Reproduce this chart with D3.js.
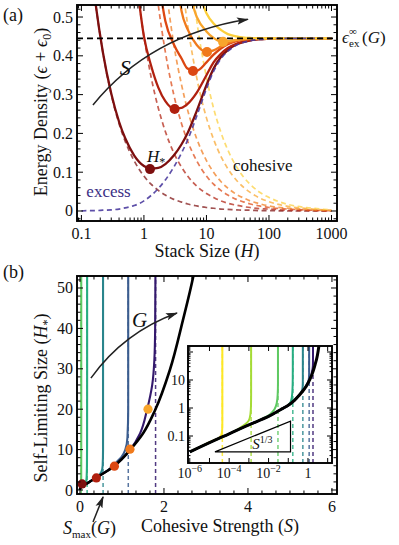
<!DOCTYPE html>
<html>
<head>
<meta charset="utf-8">
<script src="https://cdnjs.cloudflare.com/ajax/libs/d3/7.8.5/d3.min.js"></script>
<style>
  body { margin: 0; background: #fff; }
  text { font-family: "Liberation Serif", "DejaVu Serif", serif; fill: #111; }
</style>
</head>
<body>
<svg id="chart" width="399" height="545"></svg>
<script>
// ---------- panel (a): energy vs stack size ----------
const stackH = [0.1, 0.13, 0.17, 0.22, 0.3, 0.4, 0.5, 0.7, 1, 1.3, 1.7, 2.2, 3, 4, 5, 7, 10, 13, 17, 22, 30, 40, 50, 70, 100, 200, 500, 1000];

const excess = [0, 0.001, 0.001, 0.002, 0.003, 0.005, 0.008, 0.014, 0.026, 0.04, 0.058, 0.08, 0.113, 0.15, 0.183, 0.245, 0.315, 0.36, 0.392, 0.412, 0.427, 0.435, 0.439, 0.442, 0.444, 0.445, 0.445, 0.445];

const _ = null;
const cohesive = [
  [0.9, 0.69, 0.53, 0.41, 0.3, 0.225, 0.18, 0.129, 0.09, 0.069, 0.053, 0.041, 0.03, 0.023, 0.018, 0.013, 0.009, 0.007, 0.005, 0.004, 0.003, 0.002, 0.002, 0.001, 0.001, 0, 0, 0],
  [_, _, _, _, _, _, 0.9, 0.64, 0.45, 0.346, 0.265, 0.205, 0.15, 0.113, 0.09, 0.064, 0.045, 0.035, 0.026, 0.02, 0.015, 0.011, 0.009, 0.006, 0.005, 0.002, 0.001, 0],
  [_, _, _, _, _, _, _, _, 0.9, 0.69, 0.53, 0.41, 0.3, 0.225, 0.18, 0.129, 0.09, 0.069, 0.053, 0.041, 0.03, 0.023, 0.018, 0.013, 0.009, 0.005, 0.002, 0.001],
  [_, _, _, _, _, _, _, _, _, 1.0, 0.76, 0.59, 0.43, 0.325, 0.26, 0.186, 0.13, 0.1, 0.076, 0.059, 0.043, 0.033, 0.026, 0.019, 0.013, 0.007, 0.003, 0.001],
  [_, _, _, _, _, _, _, _, _, _, _, 1.09, 0.8, 0.6, 0.48, 0.343, 0.24, 0.185, 0.141, 0.109, 0.08, 0.06, 0.048, 0.034, 0.024, 0.012, 0.005, 0.002],
  [_, _, _, _, _, _, _, _, _, _, _, _, 1.15, 0.86, 0.69, 0.49, 0.345, 0.265, 0.203, 0.157, 0.115, 0.086, 0.069, 0.049, 0.035, 0.017, 0.007, 0.003]
];

const total = [
  [_, 0.69, 0.53, 0.41, 0.303, 0.23, 0.188, 0.143, 0.116, 0.109, 0.111, 0.121, 0.143, 0.172, 0.201, 0.258, 0.324, 0.367, 0.397, 0.415, 0.429, 0.436, 0.44, 0.443, 0.444, 0.445, 0.445, 0.445],
  [_, _, _, _, _, _, _, 0.65, 0.45, 0.375, 0.318, 0.283, 0.264, 0.266, 0.276, 0.305, 0.35, 0.383, 0.405, 0.42, 0.431, 0.437, 0.44, 0.443, 0.444, 0.445, 0.445, 0.445],
  [_, _, _, _, _, _, _, _, _, _, 0.6, 0.49, 0.43, 0.393, 0.367, 0.362, 0.383, 0.403, 0.419, 0.43, 0.438, 0.442, 0.444, 0.445, 0.445, 0.445, 0.445, 0.445],
  [_, _, _, _, _, _, _, _, _, _, _, _, 0.68, 0.515, 0.468, 0.428, 0.41, 0.414, 0.424, 0.433, 0.44, 0.443, 0.444, 0.445, 0.445, 0.445, 0.445, 0.445],
  [_, _, _, _, _, _, _, _, _, _, _, _, _, _, 0.58, 0.5, 0.463, 0.446, 0.437, 0.438, 0.441, 0.443, 0.444, 0.445, 0.445, 0.445, 0.445, 0.445],
  [_, _, _, _, _, _, _, _, _, _, _, _, _, _, _, 0.58, 0.51, 0.483, 0.467, 0.456, 0.45, 0.447, 0.446, 0.445, 0.445, 0.445, 0.445, 0.445]
];

const minH = [1.25, 3.1, 6.1, 10.2, 18.4];
const minE = [0.108, 0.263, 0.361, 0.41, 0.436];
const plateau = 0.445;

const heatColors = ["#7d0f0f", "#b0200f", "#dc4712", "#f07a1c", "#f8a52c", "#fccf3a"];

const aTicksX = [0.1, 1, 10, 100, 1000];
const aTickLabelsX = ["0.1", "1", "10", "100", "1000"];
const aTicksY = [0, 0.1, 0.2, 0.3, 0.4, 0.5];
const aTickLabelsY = ["0", "0.1", "0.2", "0.3", "0.4", "0.5"];

// ---------- panel (b): self-limiting size vs cohesion ----------
const sMax = [4.5e-5, 1.3e-3, 0.03, 0.17, 0.55, 1.15, 1.8];
const gColors = ["#fde725", "#a5db36", "#5ec962", "#27ad81", "#2a858c", "#3b5d8f", "#33186c"];

const gCurveH = [
  [0.027, 0.047, 0.068, 0.085, 0.11, 0.16, 0.3, 1, 300],
  [0.027, 0.058, 0.12, 0.18, 0.25, 0.36, 0.6, 1.2, 3, 300],
  [0.027, 0.058, 0.12, 0.25, 0.42, 0.6, 0.9, 1.5, 3, 8, 300],
  [0.027, 0.058, 0.12, 0.25, 0.5, 0.9, 1.2, 1.6, 2.3, 3.5, 6, 12, 30, 300],
  [0.027, 0.058, 0.12, 0.25, 0.5, 0.95, 1.25, 1.85, 2.4, 3.0, 3.6, 4.5, 6, 10, 300],
  [0.027, 0.058, 0.12, 0.25, 0.5, 0.95, 1.25, 1.85, 3.0, 4.4, 5.9, 7.0, 8.2, 10, 13, 20, 300],
  [0.027, 0.058, 0.12, 0.25, 0.5, 0.95, 1.25, 1.85, 3.0, 4.4, 5.9, 7.7, 9.9, 14, 20, 26, 32, 40, 60, 300]
];
const gCurveS = [
  [1e-6, 5e-6, 1.5e-5, 3e-5, 4e-5, 4.4e-5, 4.5e-5, 4.5e-5, 4.5e-5],
  [1e-6, 1e-5, 1e-4, 3e-4, 6e-4, 1e-3, 1.2e-3, 1.28e-3, 1.3e-3, 1.3e-3],
  [1e-6, 1e-5, 1e-4, 1e-3, 0.005, 0.012, 0.02, 0.026, 0.029, 0.03, 0.03],
  [1e-6, 1e-5, 1e-4, 1e-3, 0.01, 0.045, 0.09, 0.13, 0.15, 0.16, 0.166, 0.169, 0.17, 0.17],
  [1e-6, 1e-5, 1e-4, 1e-3, 0.01, 0.05, 0.1, 0.2, 0.28, 0.36, 0.44, 0.51, 0.54, 0.549, 0.55],
  [1e-6, 1e-5, 1e-4, 1e-3, 0.01, 0.05, 0.1, 0.2, 0.38, 0.6, 0.78, 0.88, 0.99, 1.08, 1.13, 1.148, 1.15],
  [1e-6, 1e-5, 1e-4, 1e-3, 0.01, 0.05, 0.1, 0.2, 0.38, 0.6, 0.81, 1.0, 1.19, 1.43, 1.6, 1.72, 1.77, 1.79, 1.8, 1.8]
];
// the two smallest-G curves sit on S = 0 in the linear panel; only the inset shows them
const mainFrom = 2;

const envS = [1e-6, 1e-5, 1e-4, 1e-3, 0.01, 0.05, 0.1, 0.2, 0.38, 0.6, 0.81, 1.0, 1.19, 1.5, 1.79, 2.14, 2.45, 2.7, 3.0, 3.3, 3.6];
const envH = [0.027, 0.058, 0.12, 0.25, 0.5, 0.95, 1.25, 1.85, 3.0, 4.4, 5.9, 7.7, 9.9, 14, 19.8, 29.7, 42, 53, 75, 110, 170];

const dotS = [0.05, 0.39, 0.82, 1.19, 1.62];
const dotH = [1.5, 3.0, 5.9, 10.1, 20];

const slopeS = [1.9e-5, 0.13, 0.13];
const slopeH = [0.027, 0.027, 0.34];

const bTicksX = [0, 2, 4, 6];
const bTicksY = [0, 10, 20, 30, 40, 50];
const inTicksX = [1e-6, 1e-4, 1e-2, 1];
const inTickExp = ["−6", "−4", "−2", ""];
const inTicksY = [0.1, 1, 10];
const inTickLabelsY = ["0.1", "1", "10"];

// ---------- layout ----------
const boxA = { l: 77, r: 337, t: 5, b: 221 };
const boxB = { l: 77, r: 337, t: 276, b: 494 };
const boxI = { l: 188, r: 332, t: 346, b: 463 };

const xA = d3.scaleLog().domain([0.085, 1225]).range([boxA.l, boxA.r]);
const yA = d3.scaleLinear().domain([-0.0258, 0.531]).range([boxA.b, boxA.t]);
const xB = d3.scaleLinear().domain([-0.071, 6.12]).range([boxB.l, boxB.r]);
const yB = d3.scaleLinear().domain([-0.99, 52.97]).range([boxB.b, boxB.t]);
const xI = d3.scaleLog().domain([Math.pow(10, -6.09), Math.pow(10, 1.22)]).range([boxI.l, boxI.r]);
const yI = d3.scaleLog().domain([Math.pow(10, -1.964), Math.pow(10, 2.214)]).range([boxI.b, boxI.t]);

const svg = d3.select("#chart");
const defs = svg.append("defs");

defs.append("marker")
  .attr("id", "head")
  .attr("markerUnits", "userSpaceOnUse")
  .attr("markerWidth", 12).attr("markerHeight", 9)
  .attr("refX", 11).attr("refY", 4.5)
  .attr("orient", "auto")
  .append("path")
  .attr("d", "M0,0.8 L12,4.5 L0,8.2 L2.5,4.5 Z")
  .attr("fill", "#222");

function clip(id, box) {
  defs.append("clipPath").attr("id", id).append("rect")
    .attr("x", box.l).attr("y", box.t)
    .attr("width", box.r - box.l).attr("height", box.b - box.t);
  return "url(#" + id + ")";
}

function logMinor(lo, hi) {
  const out = [];
  for (let e = Math.floor(Math.log10(lo)); e <= Math.ceil(Math.log10(hi)); e++) {
    for (let m = 2; m <= 9; m++) {
      const v = m * Math.pow(10, e);
      if (v >= lo && v <= hi) out.push(v);
    }
  }
  return out;
}

function frame(g, box, xs, ys, xMajor, xMinor, yMajor, yMinor, big, small) {
  const t = g.append("g").attr("stroke", "#000").attr("stroke-width", 1);
  xMajor.map(v => [v, big]).concat(xMinor.map(v => [v, small])).forEach(([v, len]) => {
    const p = xs(v);
    if (p < box.l + 1 || p > box.r - 1) return;
    t.append("line").attr("x1", p).attr("x2", p).attr("y1", box.b).attr("y2", box.b - len);
    t.append("line").attr("x1", p).attr("x2", p).attr("y1", box.t).attr("y2", box.t + len);
  });
  yMajor.map(v => [v, big]).concat(yMinor.map(v => [v, small])).forEach(([v, len]) => {
    const p = ys(v);
    if (p < box.t + 1 || p > box.b - 1) return;
    t.append("line").attr("y1", p).attr("y2", p).attr("x1", box.l).attr("x2", box.l + len);
    t.append("line").attr("y1", p).attr("y2", p).attr("x1", box.r).attr("x2", box.r - len);
  });
  g.append("rect")
    .attr("x", box.l).attr("y", box.t)
    .attr("width", box.r - box.l).attr("height", box.b - box.t)
    .attr("fill", "none").attr("stroke", "#000").attr("stroke-width", 1.9);
}

function rich(text, parts) {
  parts.forEach(p => {
    const t = text.append("tspan").text(p.t);
    if (p.i) t.style("font-style", "italic");
    if (p.dy) t.attr("dy", p.dy);
    if (p.fs) t.attr("font-size", p.fs);
  });
  return text;
}

// ================= panel (a) =================
const gA = svg.append("g");
const plotA = gA.append("g").attr("clip-path", clip("clipA", boxA));

const lineA = d3.line()
  .defined(d => d[1] !== null)
  .x(d => xA(d[0]))
  .y(d => yA(d[1]))
  .curve(d3.curveMonotoneX);

cohesive.forEach((c, i) => {
  plotA.append("path")
    .datum(stackH.map((h, j) => [h, c[j]]))
    .attr("d", lineA)
    .attr("fill", "none")
    .attr("stroke", heatColors[i])
    .attr("stroke-opacity", 0.72)
    .attr("stroke-width", 1.7)
    .attr("stroke-dasharray", "5,3.5");
});

total.forEach((c, i) => {
  plotA.append("path")
    .datum(stackH.map((h, j) => [h, c[j]]))
    .attr("d", lineA)
    .attr("fill", "none")
    .attr("stroke", heatColors[i])
    .attr("stroke-width", 2.3);
});

plotA.append("path")
  .datum(stackH.map((h, j) => [h, excess[j]]))
  .attr("d", lineA)
  .attr("fill", "none")
  .attr("stroke", "#4b3c9e")
  .attr("stroke-opacity", 0.9)
  .attr("stroke-width", 1.7)
  .attr("stroke-dasharray", "5,3.5");

plotA.append("line")
  .attr("x1", boxA.l).attr("x2", boxA.r)
  .attr("y1", yA(plateau)).attr("y2", yA(plateau))
  .attr("stroke", "#000").attr("stroke-width", 1.8)
  .attr("stroke-dasharray", "6,4");

plotA.selectAll("circle.min")
  .data(minH)
  .join("circle")
  .attr("class", "min")
  .attr("cx", d => xA(d))
  .attr("cy", (d, i) => yA(minE[i]))
  .attr("r", 5)
  .attr("fill", (d, i) => heatColors[i]);

// S arrow
const arrowA = d3.path();
arrowA.moveTo(xA(0.153), yA(0.273));
arrowA.quadraticCurveTo(xA(1.25), yA(0.454), xA(46), yA(0.494));
gA.append("path")
  .attr("d", arrowA.toString())
  .attr("fill", "none")
  .attr("stroke", "#222")
  .attr("stroke-width", 1.5)
  .attr("marker-end", "url(#head)");

frame(gA, boxA, xA, yA, aTicksX, logMinor(0.085, 1225),
  aTicksY, d3.range(-0.02, 0.53, 0.02).filter(v => Math.abs(Math.round(v * 10) - v * 10) > 0.01), 6, 3.5);

gA.selectAll("text.xt")
  .data(aTicksX)
  .join("text")
  .attr("class", "xt")
  .attr("x", d => xA(d))
  .attr("y", 238.5)
  .attr("text-anchor", "middle")
  .attr("font-size", 16)
  .text((d, i) => aTickLabelsX[i]);

gA.selectAll("text.yt")
  .data(aTicksY)
  .join("text")
  .attr("class", "yt")
  .attr("x", 73)
  .attr("y", d => yA(d) + 5.5)
  .attr("text-anchor", "end")
  .attr("font-size", 16)
  .text((d, i) => aTickLabelsY[i]);

rich(gA.append("text").attr("x", 207).attr("y", 257).attr("text-anchor", "middle").attr("font-size", 18),
  [{ t: "Stack Size (" }, { t: "H", i: true }, { t: ")" }]);

rich(gA.append("text").attr("transform", "translate(47,112) rotate(-90)").attr("text-anchor", "middle").attr("font-size", 18),
  [{ t: "Energy Density (" }, { t: "ϵ", i: true }, { t: " + " }, { t: "ϵ", i: true },
   { t: "0", dy: 4, fs: 12 }, { t: ")", dy: -4 }]);

gA.append("text").attr("x", 3).attr("y", 21).attr("font-size", 18).text("(a)");

gA.append("text").attr("x", xA(0.41)).attr("y", yA(0.35))
  .attr("font-size", 22).style("font-style", "italic").text("S");

rich(gA.append("text").attr("x", xA(1.12)).attr("y", yA(0.126)).attr("font-size", 17),
  [{ t: "H", i: true }, { t: "*", dy: 4, fs: 12 }]);

gA.append("text").attr("x", xA(0.12)).attr("y", yA(0.036))
  .attr("font-size", 17).style("fill", "#3b2f85").text("excess");

gA.append("text").attr("x", xA(26.6)).attr("y", yA(0.103))
  .attr("font-size", 17).text("cohesive");

const epsY = yA(plateau) + 5;
gA.append("text").attr("x", 342).attr("y", epsY).attr("font-size", 17).style("font-style", "italic").text("ϵ");
gA.append("text").attr("x", 349).attr("y", epsY - 8).attr("font-size", 11).text("∞");
gA.append("text").attr("x", 349).attr("y", epsY + 4).attr("font-size", 11).text("ex");
rich(gA.append("text").attr("x", 362).attr("y", epsY).attr("font-size", 17),
  [{ t: "(" }, { t: "G", i: true }, { t: ")" }]);

// ================= panel (b) =================
const gB = svg.append("g");
const plotB = gB.append("g").attr("clip-path", clip("clipB", boxB));

function gLine(xs, ys) {
  return d3.line().x(d => xs(d[0])).y(d => ys(d[1])).curve(d3.curveMonotoneY);
}
const lineB = gLine(xB, yB);
const lineI = gLine(xI, yI);

sMax.forEach((s, i) => {
  if (i < mainFrom) return;
  plotB.append("line")
    .attr("x1", xB(s)).attr("x2", xB(s))
    .attr("y1", boxB.b).attr("y2", boxB.t)
    .attr("stroke", gColors[i]).attr("stroke-opacity", 0.85)
    .attr("stroke-width", 1.5).attr("stroke-dasharray", "4,3");
});

gCurveS.forEach((ss, i) => {
  if (i < mainFrom) return;
  plotB.append("path")
    .datum(ss.map((s, j) => [s, gCurveH[i][j]]))
    .attr("d", lineB)
    .attr("fill", "none")
    .attr("stroke", gColors[i])
    .attr("stroke-width", 2.1);
});

plotB.append("path")
  .datum(envS.map((s, j) => [s, envH[j]]))
  .attr("d", lineB)
  .attr("fill", "none")
  .attr("stroke", "#000")
  .attr("stroke-width", 2.6);

plotB.selectAll("circle.dot")
  .data(dotS)
  .join("circle")
  .attr("class", "dot")
  .attr("cx", d => xB(d))
  .attr("cy", (d, i) => yB(dotH[i]))
  .attr("r", 4.6)
  .attr("fill", (d, i) => heatColors[i]);

// G arrow
const arrowB = d3.path();
arrowB.moveTo(xB(0.26), yB(27.7));
arrowB.quadraticCurveTo(xB(1.05), yB(39.1), xB(2.31), yB(43.8));
gB.append("path")
  .attr("d", arrowB.toString())
  .attr("fill", "none")
  .attr("stroke", "#222")
  .attr("stroke-width", 1.5)
  .attr("marker-end", "url(#head)");

rich(gB.append("text").attr("x", xB(1.24)).attr("y", yB(40.3)).attr("font-size", 21),
  [{ t: "G", i: true }]);

frame(gB, boxB, xB, yB, bTicksX, d3.range(-0.0001, 6.1, 2 / 6).filter(v => Math.abs(v / 2 - Math.round(v / 2)) > 0.01),
  bTicksY, d3.range(0, 53, 2).filter(v => v % 10 !== 0), 6, 3.5);

gB.selectAll("text.xt")
  .data(bTicksX)
  .join("text")
  .attr("class", "xt")
  .attr("x", d => xB(d))
  .attr("y", 511.5)
  .attr("text-anchor", "middle")
  .attr("font-size", 16)
  .text(d => d);

gB.selectAll("text.yt")
  .data(bTicksY)
  .join("text")
  .attr("class", "yt")
  .attr("x", 73)
  .attr("y", d => yB(d) + 5.5)
  .attr("text-anchor", "end")
  .attr("font-size", 16)
  .text(d => d);

rich(gB.append("text").attr("x", 220).attr("y", 532).attr("text-anchor", "middle").attr("font-size", 18),
  [{ t: "Cohesive Strength (" }, { t: "S", i: true }, { t: ")" }]);

rich(gB.append("text").attr("transform", "translate(47,398) rotate(-90)").attr("text-anchor", "middle").attr("font-size", 18),
  [{ t: "Self-Limiting Size (" }, { t: "H", i: true }, { t: "*", dy: 4, fs: 12 }, { t: ")", dy: -4 }]);

gB.append("text").attr("x", 3).attr("y", 278).attr("font-size", 18).text("(b)");

// S_max arrow below the axis
gB.append("line")
  .attr("x1", xB(0.31)).attr("y1", yB(-7.9))
  .attr("x2", xB(0.55)).attr("y2", yB(-1.7))
  .attr("stroke", "#222").attr("stroke-width", 1.5)
  .attr("marker-end", "url(#head)");

rich(gB.append("text").attr("x", 63).attr("y", 534).attr("font-size", 18),
  [{ t: "S", i: true }, { t: "max", dy: 4, fs: 11 }, { t: "(", dy: -4 }, { t: "G", i: true }, { t: ")" }]);

// ---------- inset ----------
const gI = svg.append("g");
gI.append("rect")
  .attr("x", boxI.l).attr("y", boxI.t)
  .attr("width", boxI.r - boxI.l).attr("height", boxI.b - boxI.t)
  .attr("fill", "#fff");
const plotI = gI.append("g").attr("clip-path", clip("clipI", boxI));

sMax.forEach((s, i) => {
  plotI.append("line")
    .attr("x1", xI(s)).attr("x2", xI(s))
    .attr("y1", boxI.b).attr("y2", boxI.t)
    .attr("stroke", gColors[i]).attr("stroke-opacity", 0.85)
    .attr("stroke-width", 1.5).attr("stroke-dasharray", "4,3");
});

gCurveS.forEach((ss, i) => {
  plotI.append("path")
    .datum(ss.map((s, j) => [s, gCurveH[i][j]]))
    .attr("d", lineI)
    .attr("fill", "none")
    .attr("stroke", gColors[i])
    .attr("stroke-width", 2);
});

plotI.append("path")
  .datum(envS.map((s, j) => [s, envH[j]]))
  .attr("d", lineI)
  .attr("fill", "none")
  .attr("stroke", "#000")
  .attr("stroke-width", 3);

plotI.append("path")
  .datum(slopeS.map((s, j) => [s, slopeH[j]]))
  .attr("d", d3.line().x(d => xI(d[0])).y(d => yI(d[1])).curve(d3.curveLinearClosed))
  .attr("fill", "none")
  .attr("stroke", "#000")
  .attr("stroke-width", 1.2);

rich(gI.append("text").attr("x", xI(1.5e-3)).attr("y", yI(0.034)).attr("font-size", 15),
  [{ t: "S", i: true }, { t: "1/3", dy: -6, fs: 10 }]);

frame(gI, boxI, xI, yI, d3.range(-6, 2).map(e => Math.pow(10, e)), [],
  [0.01, 0.1, 1, 10, 100], logMinor(0.011, 160), 5, 2.5);

gI.selectAll("text.xt")
  .data(inTicksX)
  .join("text")
  .attr("class", "xt")
  .attr("x", d => xI(d))
  .attr("y", 478)
  .attr("text-anchor", "middle")
  .attr("font-size", 14)
  .each(function (d, i) {
    const t = d3.select(this);
    if (inTickExp[i] === "") { t.text("1"); return; }
    t.append("tspan").text("10");
    t.append("tspan").attr("dy", -6).attr("font-size", 10).text(inTickExp[i]);
  });

gI.selectAll("text.yt")
  .data(inTicksY)
  .join("text")
  .attr("class", "yt")
  .attr("x", 185)
  .attr("y", d => yI(d) + 5)
  .attr("text-anchor", "end")
  .attr("font-size", 14)
  .text((d, i) => inTickLabelsY[i]);
</script>
</body>
</html>
